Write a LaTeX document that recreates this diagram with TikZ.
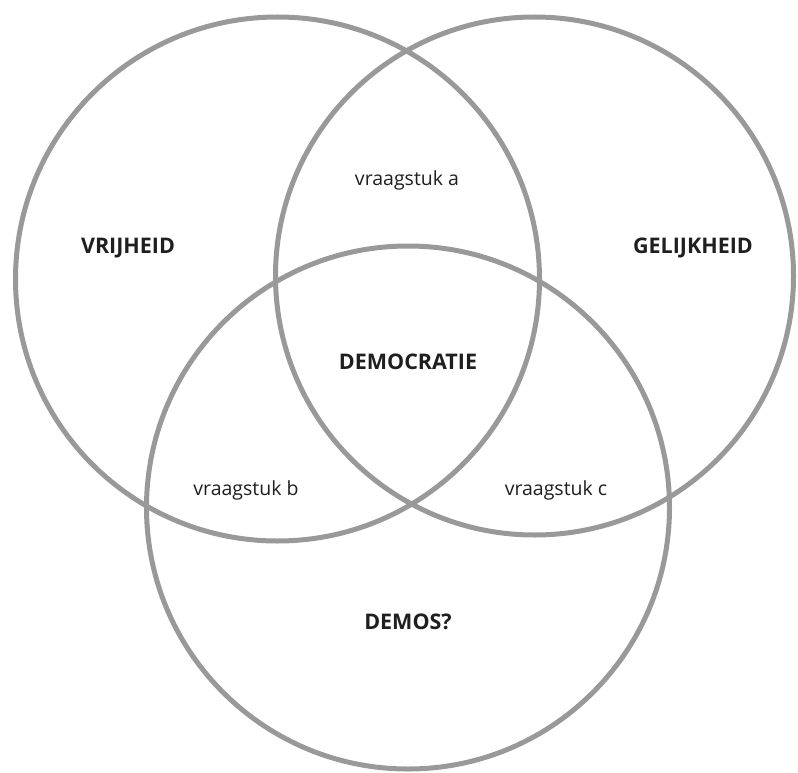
\documentclass[tikz,border=0pt]{standalone}
\usepackage{fontspec}
\setmainfont{Open Sans}
\begin{document}
\begin{tikzpicture}[x=1pt,y=-1pt,
  ring/.style={draw=black!40, line width=5pt},
  big/.style={font=\fontsize{21.5}{26}\selectfont\bfseries, text=black!88},
  small/.style={font=\fontsize{19.5}{23}\selectfont, text=black!88}]
\useasboundingbox (0,0) rectangle (798,773);
\fill[white] (0,0) rectangle (798,773);
\node[ring, circle, minimum size=524pt, inner sep=0pt] (cl) at (277.5,279) {};
\node[ring, circle, minimum size=518pt, inner sep=0pt] (cr) at (534.5,276) {};
\node[ring, circle, minimum size=523pt, inner sep=0pt] (cb) at (408,507.5) {};
\node[big] (vr) at (128,248) {VRIJHEID};
\node[big] (ge) at (693,248) {GELIJKHEID};
\node[small] (va) at (407,180) {vraagstuk a};
\node[big] (de) at (408,362) {DEMOCRATIE};
\node[small] (vb) at (246,490) {vraagstuk b};
\node[small] (vc) at (556,490) {vraagstuk c};
\node[big] (dm) at (408,622) {DEMOS?};
\end{tikzpicture}
\end{document}
